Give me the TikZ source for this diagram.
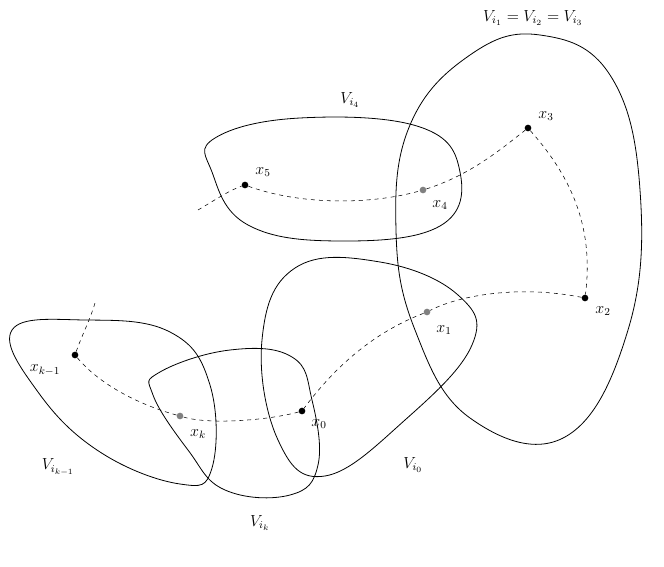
\documentclass[tikz,border=0pt]{standalone}
\usepackage{amsmath}
\begin{document}
\begin{tikzpicture}[x=0.75pt,y=0.75pt,yscale=-1,xscale=1,every node/.style={font=\large}]
\tikzset{pt/.style={circle,fill=black,inner sep=0pt,minimum size=5pt},
  gpt/.style={circle,fill=gray,inner sep=0pt,minimum size=5pt},
  blob/.style={line width=0.6pt}}
\useasboundingbox (0,0) rectangle (664,567);

%Shape: blob V_{i_1}
\draw [blob] plot[smooth cycle,tension=0.7] coordinates {(470,55) (540,35) (610,75) (640,190) (628,330) (565,437) (470,418) (415,330) (396,230) (410,125)};
%Shape: blob V_{i_4}
\draw [blob] plot[smooth cycle,tension=0.7] coordinates {(215,138) (300,118) (420,127) (460,172) (440,226) (340,241) (248,225) (212,172)};
%Shape: blob V_{i_0}
\draw [blob] plot[smooth cycle,tension=0.7] coordinates {(295,268) (380,262) (458,295) (472,345) (405,420) (325,476) (278,440) (262,340)};
%Shape: blob V_{i_k}
\draw [blob] plot[smooth cycle,tension=0.7] coordinates {(160,372) (230,350) (292,357) (312,400) (318,465) (290,495) (225,490) (188,450) (153,395)};
%Shape: blob V_{i_{k-1}}
\draw [blob] plot[smooth cycle,tension=0.7] coordinates {(12,330) (85,320) (170,332) (210,385) (212,468) (180,484) (100,452) (38,392)};

% Points
\node [pt] (x5) at (245,185) {};
\node [gpt] (x4) at (423,190) {};
\node [pt] (x3) at (528,128) {};
\node [pt] (x2) at (585,298) {};
\node [gpt] (x1) at (427,312) {};
\node [pt] (x0) at (302,411) {};
\node [gpt] (xk) at (180,416) {};
\node [pt] (xk1) at (75,355) {};
\coordinate (s) at (198,210);
\coordinate (e) at (95,303);

%Dashed path
\draw [dashed] (s) .. controls (215,200) and (230,190) .. (x5)
  .. controls (300,205) and (370,205) .. (x4)
  .. controls (470,175) and (500,150) .. (x3)
  .. controls (565,170) and (595,220) .. (x2)
  .. controls (520,285) and (460,295) .. (x1)
  .. controls (380,330) and (340,360) .. (x0)
  .. controls (270,420) and (210,425) .. (xk)
  .. controls (140,405) and (100,385) .. (xk1)
  .. controls (82,335) and (90,320) .. (e);

% Text Node
\node at (533,18) {$V_{i_1}=V_{i_2}=V_{i_3}$};
\node at (350,100) {$V_{i_4}$};
\node at (58,467) {$V_{i_{k-1}}$};
\node at (260,523) {$V_{i_k}$};
\node at (413,465) {$V_{i_0}$};
\node at (263,172) {$x_5$};
\node at (440,205) {$x_4$};
\node at (546,116) {$x_3$};
\node at (603,311) {$x_2$};
\node at (444,330) {$x_1$};
\node at (319,424) {$x_0$};
\node at (198,434) {$x_k$};
\node at (45,370) {$x_{k-1}$};
\end{tikzpicture}
\end{document}
